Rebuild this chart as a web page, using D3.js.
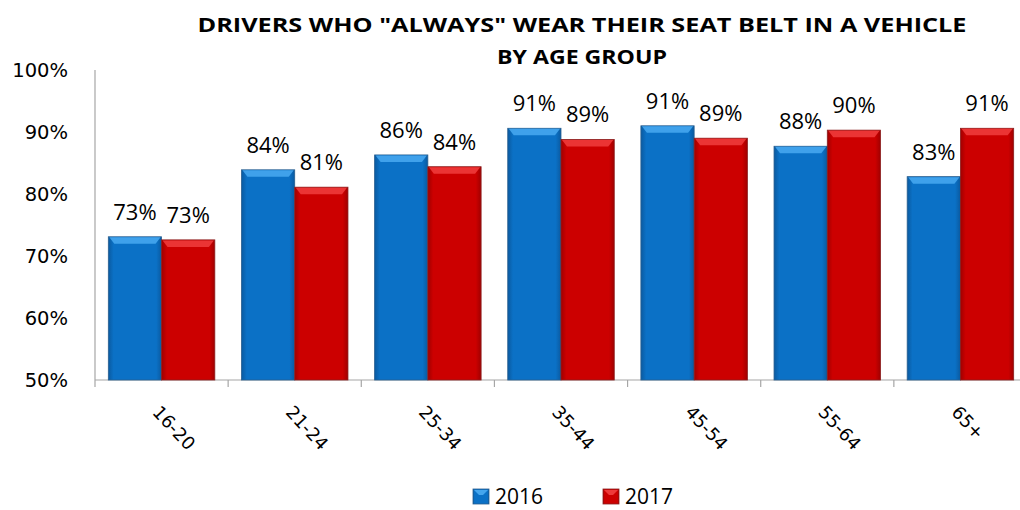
<!DOCTYPE html>
<html><head><meta charset="utf-8">
<script src="https://cdn.jsdelivr.net/npm/d3@7"></script>
<style>body{margin:0;background:#fff}svg{display:block}</style>
</head><body>
<svg id="c" width="1020" height="510"></svg>
<script>
const categories = ["16-20","21-24","25-34","35-44","45-54","55-64","65+"];
const series2016 = [73.1, 83.9, 86.3, 90.6, 91.0, 87.7, 82.8];
const series2017 = [72.6, 81.1, 84.4, 88.8, 89.0, 90.3, 90.6];
const labels2016 = ["73%","84%","86%","91%","91%","88%","83%"];
const labels2017 = ["73%","81%","84%","89%","89%","90%","91%"];
const yTicks = [50,60,70,80,90,100];
const seriesNames = ["2016","2017"];
const titleLines = ['DRIVERS WHO "ALWAYS" WEAR THEIR SEAT BELT IN A VEHICLE', 'BY AGE GROUP'];

(function(){
const svg = d3.select("#c");
const fontA = "'Open Sans', sans-serif";
const fontB = "'DejaVu Sans', Verdana, sans-serif";
const pLeft = 95, pRight = 1027, pTop = 70, pBottom = 380;

const x = d3.scaleBand().domain(categories).range([pLeft, pRight]).paddingInner(0).paddingOuter(0);
const y = d3.scaleLinear().domain([50,100]).range([pBottom, pTop]);
const inner = d3.scaleBand().domain(seriesNames).range([0, x.bandwidth()]).paddingInner(0).paddingOuter(0.25);

const defs = svg.append("defs");
function grad(id, dark, mid){
  const g = defs.append("linearGradient").attr("id", id).attr("x1","0").attr("x2","1").attr("y1","0").attr("y2","0");
  g.append("stop").attr("offset","0").attr("stop-color", dark);
  g.append("stop").attr("offset","0.1").attr("stop-color", mid);
  g.append("stop").attr("offset","0.9").attr("stop-color", mid);
  g.append("stop").attr("offset","1").attr("stop-color", dark);
}
grad("gBlue", "#0a5aa0", "#0b71c6");
grad("gRed", "#a00000", "#cc0000");
const colors = {"2016": {fill:"url(#gBlue)", top:"#45a6ee", stroke:"#2a5f8f"},
                "2017": {fill:"url(#gRed)", top:"#ee3a3a", stroke:"#8a2020"}};

// title
svg.append("g").selectAll("text").data(titleLines).join("text")
  .attr("x", 582).attr("y", (d,i) => 32 + i*32).attr("text-anchor","middle")
  .attr("font-family", fontA).attr("font-weight","bold").attr("font-size", 20)
  .attr("textLength", (d,i) => i === 0 ? 769 : 170).attr("lengthAdjust","spacingAndGlyphs")
  .text(d => d);

// y tick labels
svg.append("g").selectAll("text").data(yTicks).join("text")
  .attr("x", 68).attr("y", d => y(d) + 7).attr("text-anchor","end")
  .attr("font-family", fontB).attr("font-size", 19.5).attr("fill","#000")
  .text(d => d + "%");

// axes
svg.append("line").attr("x1", pLeft).attr("x2", pLeft).attr("y1", pTop).attr("y2", pBottom).attr("stroke","#a6a6a6").attr("stroke-width",1.2);
svg.append("line").attr("x1", pLeft).attr("x2", pRight).attr("y1", pBottom).attr("y2", pBottom).attr("stroke","#a6a6a6").attr("stroke-width",1.2);
svg.append("g").selectAll("line").data(categories.concat(["_end"])).join("line")
  .attr("x1", (d,i) => pLeft + i * x.bandwidth()).attr("x2", (d,i) => pLeft + i * x.bandwidth())
  .attr("y1", pBottom).attr("y2", pBottom + 7).attr("stroke","#a6a6a6").attr("stroke-width",1.2);

// bars
const data = [];
categories.forEach((c,i) => {
  data.push({cat:c, s:"2016", v:series2016[i], label:labels2016[i]});
  data.push({cat:c, s:"2017", v:series2017[i], label:labels2017[i]});
});
const bw = inner.bandwidth();
const bars = svg.append("g").selectAll("g").data(data).join("g")
  .attr("transform", d => `translate(${x(d.cat) + inner(d.s)},0)`);
bars.append("rect").attr("x",0).attr("y", d => y(d.v)).attr("width", bw).attr("height", d => pBottom - y(d.v))
  .attr("fill", d => colors[d.s].fill).attr("stroke", d => colors[d.s].stroke).attr("stroke-width", 0.8);
bars.append("path")
  .attr("d", d => { const t = y(d.v); return `M1,${t+0.5} L${bw-1},${t+0.5} L${bw-6},${t+7} L6,${t+7} Z`; })
  .attr("fill", d => colors[d.s].top).attr("opacity", 0.9);

// value labels
bars.append("text").attr("x", bw/2).attr("y", d => y(d.v) - 17).attr("text-anchor","middle")
  .attr("font-family", fontA).attr("font-size", 22).attr("fill","#000").text(d => d.label);

// x labels
svg.append("g").selectAll("text").data(categories).join("text")
  .attr("transform", d => `translate(${x(d) + x.bandwidth()/2 - 10},${pBottom + 33}) rotate(47)`)
  .attr("font-family", fontB).attr("font-size", 18).attr("fill","#000").attr("text-anchor","start")
  .text(d => d);

// legend
const lg = svg.append("g").selectAll("g").data(seriesNames).join("g")
  .attr("transform", (d,i) => `translate(${473 + i*130},489)`);
lg.append("rect").attr("width",16).attr("height",15).attr("fill", d => colors[d].fill).attr("stroke", d => colors[d].stroke).attr("stroke-width",0.8);
lg.append("path").attr("d","M1,1 L15,1 L10,6 L6,6 Z").attr("fill", d => colors[d].top);
lg.append("text").attr("x",22).attr("y",15).attr("font-family", fontA).attr("font-size",21).text(d => d);
})();
</script>
</body></html>
